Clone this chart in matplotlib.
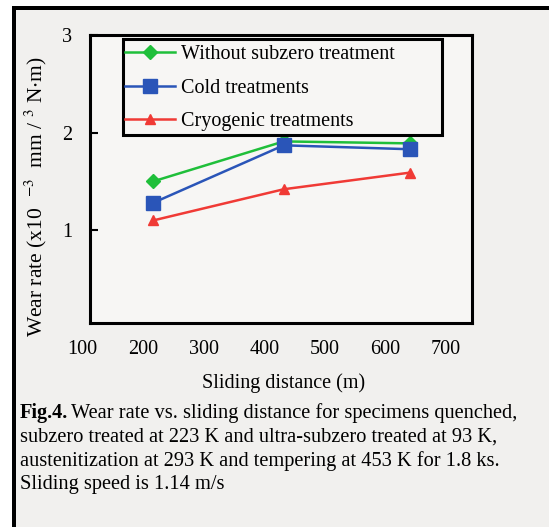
import matplotlib
matplotlib.use("Agg")
import matplotlib.pyplot as plt
import matplotlib.transforms as mtransforms
from matplotlib.patches import Rectangle

# values
distance = [216, 432, 640]
without_subzero = [1.50, 1.91, 1.89]
cold = [1.28, 1.87, 1.83]
cryogenic = [1.10, 1.42, 1.59]
series_labels = ["Without subzero treatment", "Cold treatments", "Cryogenic treatments"]
xticks = [200, 300, 400, 500, 600, 700]
first_xtick = 100  # sits just left of the axis in the scan
yticks = [1, 2, 3]

caption = ["subzero treated at 223 K and ultra-subzero treated at 93 K,",
           "austenitization at 293 K and tempering at 453 K for 1.8 ks.",
           "Sliding speed is 1.14 m/s"]

plt.rcParams['font.family'] = ['Liberation Serif', 'DejaVu Serif']
plt.rcParams['mathtext.fontset'] = 'stix'

W, H = 549, 527
fig = plt.figure(figsize=(W / 100, H / 100), dpi=100)
fig.patch.set_facecolor("white")

# scanned page background + thick black edge
fig.patches.append(Rectangle((16 / W, 0), 1, 1 - 10 / H, transform=fig.transFigure,
                             facecolor="#f1f0ee", edgecolor="none", zorder=-2))
fig.patches.append(Rectangle((12 / W, 0), 4 / W, 1 - 6 / H, transform=fig.transFigure,
                             facecolor="black", edgecolor="none", zorder=-1))
fig.patches.append(Rectangle((12 / W, 1 - 10 / H), 1, 4 / H, transform=fig.transFigure,
                             facecolor="black", edgecolor="none", zorder=-1))

ax = fig.add_axes([90 / W, 1 - 323 / H, 382 / W, 288 / H])
ax.set_zorder(2)
ax.set_facecolor("#f7f6f4")

ax.plot(distance, without_subzero, color="#1fbf3a", lw=1.8, marker="D", ms=7,
        label=series_labels[0])
ax.plot(distance, cold, color="#2a55b8", lw=1.8, marker="s", ms=10.5,
        label=series_labels[1])
ax.plot(distance, cryogenic, color="#f03a35", lw=1.8, marker="^", ms=7,
        label=series_labels[2])

ax.set_xticks(xticks)
ax.set_yticks(yticks)
ax.set_xlim(112, 743)
ax.set_ylim(0.05, 3.0)
ax.tick_params(axis="x", length=0, pad=12, labelsize=14.5)
ax.tick_params(axis="y", direction="in", length=6, width=1.5, pad=13, labelsize=14.5)
for s in ax.spines.values():
    s.set_linewidth(2.2)

# the "100" label lies outside the view limits, so place it by hand on the x scale
xlab_trans = (mtransforms.blended_transform_factory(ax.transData, ax.transAxes)
              + mtransforms.ScaledTranslation(0, -12.5 / 72, fig.dpi_scale_trans))
ax.text(first_xtick, 0, str(first_xtick), transform=xlab_trans, ha="center", va="top",
        fontsize=14.5, clip_on=False)

# legend with its own frame (the box in the scan is wider than its text)
ax.add_patch(Rectangle((123 / W, 1 - 135 / H), 319 / W, 96 / H, transform=fig.transFigure,
                       facecolor="#f7f6f4", edgecolor="black", lw=2.2, zorder=5,
                       clip_on=False))
leg = ax.legend(loc="upper left", bbox_to_anchor=(121 / W, 1 - 41 / H),
                bbox_transform=fig.transFigure,
                frameon=False, fontsize=14.5, handlelength=2.5, handletextpad=0.3,
                labelspacing=0.72, borderpad=0.2, borderaxespad=0)
leg.set_zorder(6)

fig.text(284 / W, 1 - 383 / H, "Sliding distance (m)", ha="center", va="center", fontsize=14.5)
fig.text(36 / W, 1 - 197 / H, r"Wear rate (x10  $^{-3}$  mm / $^{3}$ N$\cdot$m)",
         rotation=90, ha="center", va="center", fontsize=15.5)

# caption under the chart
fig.text(20 / W, 1 - 413 / H, "Fig.4.", fontsize=14.7, fontweight="bold", va="center")
fig.text(71 / W, 1 - 413 / H, "Wear rate vs. sliding distance for specimens quenched,",
         fontsize=14.7, va="center")
for i, line in enumerate(caption):
    fig.text(20 / W, 1 - (437 + 24 * i) / H, line, fontsize=14.7, va="center")

fig.savefig("out.png", dpi=100, facecolor=fig.get_facecolor())
